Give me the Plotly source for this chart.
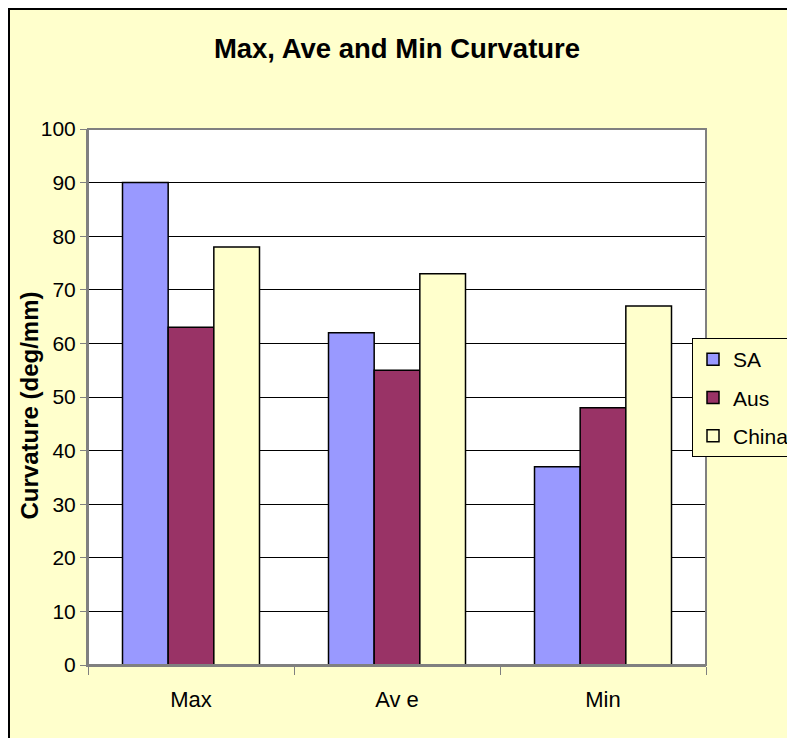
import plotly.graph_objects as go

categories = ["Max", "Av e", "Min"]
series_names = ["SA", "Aus", "China"]
sa_values = [90, 62, 37]
aus_values = [63, 55, 48]
china_values = [78, 73, 67]
colors = ["#9999FF", "#993366", "#FFFFCC"]
y_ticks = [0, 10, 20, 30, 40, 50, 60, 70, 80, 90, 100]

# The page places the figure 8px from the top-left corner, so layout is in figure pixels.
OFF = 8
PL, PR, PT, PB = 88 - OFF, 706 - OFF, 129 - OFF, 665 - OFF
W, H = 795 - OFF, 738 - OFF
pw, ph = PR - PL, PB - PT

fig = go.Figure()
for name, vals, col in zip(series_names, [sa_values, aus_values, china_values], colors):
    fig.add_trace(go.Bar(
        x=categories, y=vals, name=name, legendgroup=name,
        marker=dict(color=col, line=dict(color="black", width=1.5)),
    ))

fig.update_layout(
    width=W, height=H,
    margin=dict(l=PL, r=W - PR, t=PT, b=H - PB, autoexpand=False),
    paper_bgcolor="#FFFFCC",
    plot_bgcolor="white",
    barmode="group",
    bargap=0.335,
    bargroupgap=0,
    font=dict(family="Liberation Sans, Arial", size=21, color="black"),
    title=dict(text="<b>Max, Ave and Min Curvature</b>", x=(397 - OFF) / W, xanchor="center",
               y=1 - (48 - OFF) / H, yanchor="middle", font=dict(size=27.5)),
    legend=dict(x=(692 - OFF - PL) / pw, xanchor="left",
                y=(PB - (338 - OFF)) / ph, yanchor="top",
                bgcolor="#FFFFCC", bordercolor="black", borderwidth=1,
                tracegroupgap=8, font=dict(size=21), itemwidth=30),
    showlegend=True,
)
fig.update_xaxes(showline=True, linecolor="#808080", linewidth=2, mirror=False,
                 ticks="outside", tickson="boundaries", ticklen=8, tickcolor="#808080",
                 ticklabelstandoff=14, showgrid=False, automargin=False,
                 tickfont=dict(size=22))
fig.update_yaxes(range=[0, 100], tickvals=y_ticks, showline=True, linecolor="#808080",
                 linewidth=2, ticks="outside", ticklen=6, tickcolor="#808080",
                 gridcolor="black", gridwidth=1, zeroline=False, automargin=False)
# y-axis title
fig.add_annotation(text="<b>Curvature (deg/mm)</b>", textangle=-90, showarrow=False,
                   xref="paper", yref="paper",
                   x=(28.5 - OFF - PL) / pw, y=(PB - (406 - OFF)) / ph,
                   xanchor="center", yanchor="middle", font=dict(size=24))
# plot border right/top
fig.add_shape(type="rect", xref="paper", yref="paper", x0=0, x1=1, y0=0, y1=1,
              line=dict(color="#808080", width=2), layer="above")
# outer chart border (left and top edges visible)
fig.add_shape(type="path", xref="paper", yref="paper",
              path=f"M {(1 - PL) / pw} {-(H - PB) / ph} L {(1 - PL) / pw} {1 + (PT - 1) / ph} "
                   f"L {(W - PL) / pw} {1 + (PT - 1) / ph}",
              line=dict(color="black", width=2))
fig.write_html("out.html")
